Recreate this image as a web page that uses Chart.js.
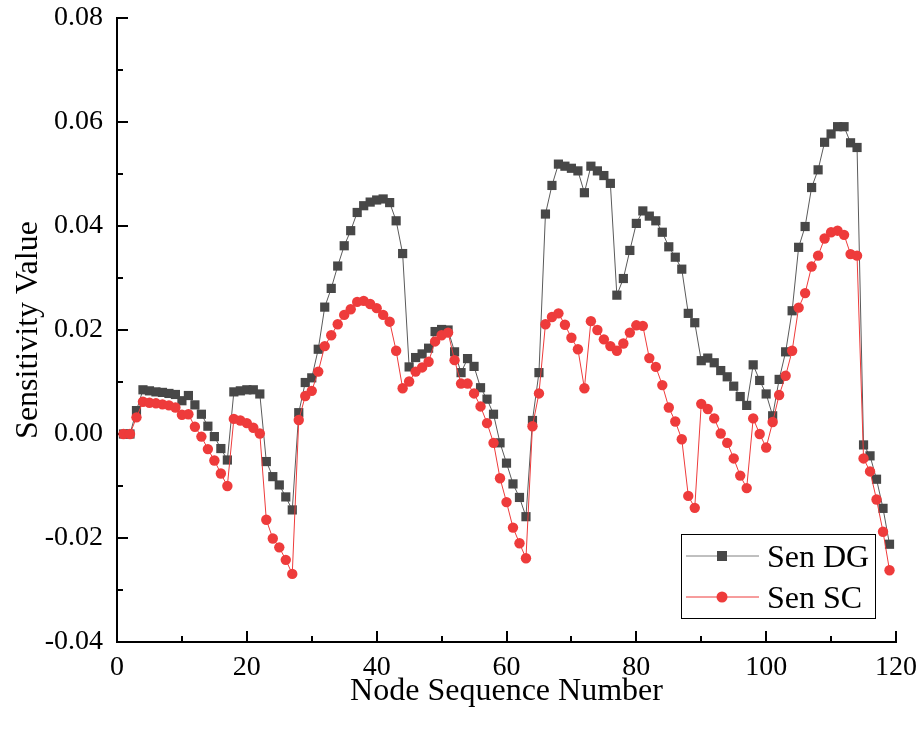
<!DOCTYPE html>
<html>
<head>
<meta charset="utf-8">
<script src="https://cdn.jsdelivr.net/npm/chart.js"></script>
<style>
  html, body { margin: 0; padding: 0; background: #fff; }
</style>
</head>
<body>
<canvas id="myChart" width="919" height="733"></canvas>
<script>
// node numbers on the x axis
const nodes = [
  1, 2, 3, 4, 5, 6, 7, 8, 9, 10, 11, 12, 13, 14, 15, 16, 17, 18, 19, 20,
  21, 22, 23, 24, 25, 26, 27, 28, 29, 30, 31, 32, 33, 34, 35, 36, 37, 38, 39, 40,
  41, 42, 43, 44, 45, 46, 47, 48, 49, 50, 51, 52, 53, 54, 55, 56, 57, 58, 59, 60,
  61, 62, 63, 64, 65, 66, 67, 68, 69, 70, 71, 72, 73, 74, 75, 76, 77, 78, 79, 80,
  81, 82, 83, 84, 85, 86, 87, 88, 89, 90, 91, 92, 93, 94, 95, 96, 97, 98, 99, 100,
  101, 102, 103, 104, 105, 106, 107, 108, 109, 110, 111, 112, 113, 114, 115, 116, 117, 118, 119
];

const senDG = [
  0, 0, 0.0045, 0.0085, 0.0083, 0.0081, 0.0080, 0.0078, 0.0076, 0.0064,
  0.0074, 0.0056, 0.0038, 0.0015, -0.0005, -0.0028, -0.0050, 0.0081, 0.0083, 0.0085,
  0.0085, 0.0077, -0.0053, -0.0082, -0.0098, -0.0121, -0.0146, 0.0041, 0.0099, 0.0108,
  0.0163, 0.0244, 0.0280, 0.0323, 0.0362, 0.0391, 0.0426, 0.0439, 0.0446, 0.0450,
  0.0452, 0.0445, 0.0410, 0.0347, 0.0129, 0.0147, 0.0154, 0.0165, 0.0197, 0.0201,
  0.0200, 0.0158, 0.0118, 0.0145, 0.0130, 0.0089, 0.0067, 0.0038, -0.0017, -0.0056,
  -0.0096, -0.0122, -0.0159, 0.0026, 0.0118, 0.0423, 0.0478, 0.0519, 0.0515, 0.0511,
  0.0506, 0.0464, 0.0515, 0.0506, 0.0497, 0.0482, 0.0267, 0.0299, 0.0353, 0.0405,
  0.0429, 0.0419, 0.0410, 0.0388, 0.0360, 0.0340, 0.0317, 0.0232, 0.0214, 0.0141,
  0.0146, 0.0137, 0.0122, 0.0110, 0.0092, 0.0072, 0.0055, 0.0133, 0.0103, 0.0077,
  0.0035, 0.0105, 0.0158, 0.0237, 0.0359, 0.0399, 0.0474, 0.0508, 0.0561, 0.0577,
  0.0591, 0.0591, 0.0560, 0.0551, -0.0021, -0.0042, -0.0087, -0.0143, -0.0212
];

const senSC = [
  0, 0, 0.0032, 0.0062, 0.0060, 0.0059, 0.0057, 0.0055, 0.0051, 0.0037,
  0.0038, 0.0014, -0.0005, -0.0029, -0.0051, -0.0076, -0.0100, 0.0029, 0.0026, 0.0021,
  0.0012, 0.0001, -0.0165, -0.0201, -0.0218, -0.0242, -0.0269, 0.0027, 0.0073, 0.0083,
  0.0120, 0.0169, 0.0190, 0.0211, 0.0229, 0.0240, 0.0254, 0.0256, 0.0250, 0.0242,
  0.0229, 0.0216, 0.0160, 0.0088, 0.0101, 0.0120, 0.0128, 0.0139, 0.0178, 0.0190,
  0.0195, 0.0142, 0.0097, 0.0097, 0.0078, 0.0053, 0.0021, -0.0017, -0.0085, -0.0131,
  -0.0180, -0.0210, -0.0239, 0.0015, 0.0078, 0.0211, 0.0225, 0.0232, 0.0210, 0.0185,
  0.0163, 0.0088, 0.0217, 0.0200, 0.0182, 0.0169, 0.0160, 0.0174, 0.0195, 0.0209,
  0.0208, 0.0146, 0.0129, 0.0094, 0.0051, 0.0024, -0.0010, -0.0119, -0.0142, 0.0058,
  0.0048, 0.0030, 0.0001, -0.0017, -0.0047, -0.0080, -0.0104, 0.0030, 0.0000, -0.0026,
  0.0023, 0.0075, 0.0112, 0.0160, 0.0243, 0.0271, 0.0322, 0.0343, 0.0376, 0.0388,
  0.0391, 0.0383, 0.0346, 0.0343, -0.0047, -0.0072, -0.0126, -0.0188, -0.0262
];

const xTicks = [0, 20, 40, 60, 80, 100, 120];
const yTicks = [-0.04, -0.02, 0, 0.02, 0.04, 0.06, 0.08];

const DG_COLOR = '#474747';
const SC_COLOR = '#ee3b3b';
const FONT = "'Liberation Serif', 'Times New Roman', serif";

Chart.defaults.font.family = FONT;
Chart.defaults.color = '#000';

// inward tick marks, major and minor, like the original plot
const tickMarks = {
  id: 'tickMarks',
  beforeDatasetsDraw(chart) {
    const ctx = chart.ctx;
    const x = chart.scales.x, y = chart.scales.y;
    const left = chart.chartArea.left, bottom = chart.chartArea.bottom;
    ctx.save();
    ctx.strokeStyle = '#000';
    ctx.lineWidth = 2;
    ctx.beginPath();
    for (let v = 0; v <= 120; v += 10) {
      const px = Math.round(x.getPixelForValue(v));
      const len = v % 20 === 0 ? 11 : 6;
      ctx.moveTo(px, bottom);
      ctx.lineTo(px, bottom - len);
    }
    for (let i = -4; i <= 8; i++) {
      const py = Math.round(y.getPixelForValue(i / 100));
      const len = i % 2 === 0 ? 11 : 6;
      ctx.moveTo(left, py);
      ctx.lineTo(left + len, py);
    }
    ctx.stroke();
    ctx.restore();
  }
};

// boxed legend in the lower right corner
const boxLegend = {
  id: 'boxLegend',
  afterDraw(chart) {
    const ctx = chart.ctx;
    ctx.save();
    ctx.strokeStyle = '#000';
    ctx.lineWidth = 1;
    ctx.strokeRect(681.5, 534.5, 194, 84);
    const rows = [
      { ds: chart.data.datasets[0], y: 556 },
      { ds: chart.data.datasets[1], y: 597 }
    ];
    rows.forEach(r => {
      ctx.strokeStyle = r.ds.legendLine;
      ctx.lineWidth = 1;
      ctx.beginPath();
      ctx.moveTo(686, r.y);
      ctx.lineTo(759, r.y);
      ctx.stroke();
      ctx.fillStyle = r.ds.pointBackgroundColor;
      if (r.ds.pointStyle === 'rect') {
        ctx.fillRect(722 - 5, r.y - 5, 10, 10);
      } else {
        ctx.beginPath();
        ctx.arc(722, r.y, 5.5, 0, Math.PI * 2);
        ctx.fill();
      }
      ctx.fillStyle = '#000';
      ctx.font = '32px ' + FONT;
      ctx.textBaseline = 'alphabetic';
      ctx.fillText(r.ds.label, 767, r.y + 11);
    });
    ctx.restore();
  }
};

const ctx = document.getElementById('myChart').getContext('2d');
const myChart = new Chart(ctx, {
  type: 'line',
  data: {
    datasets: [{
      label: 'Sen DG',
      data: senDG.map((v, i) => ({ x: nodes[i], y: v })),
      borderColor: '#5a5a5a',
      legendLine: '#808080',
      borderWidth: 1,
      pointStyle: 'rect',
      pointRadius: 6.5,
      pointBorderWidth: 0,
      pointBackgroundColor: DG_COLOR,
      tension: 0,
      order: 2
    }, {
      label: 'Sen SC',
      data: senSC.map((v, i) => ({ x: nodes[i], y: v })),
      borderColor: SC_COLOR,
      legendLine: SC_COLOR,
      borderWidth: 1,
      pointStyle: 'circle',
      pointRadius: 5.2,
      pointBorderWidth: 0,
      pointBackgroundColor: SC_COLOR,
      tension: 0,
      order: 1
    }]
  },
  options: {
    responsive: false,
    animation: false,
    layout: { padding: { left: 0, right: 23, top: 18, bottom: 0 } },
    plugins: {
      legend: { display: false },
      tooltip: { enabled: false }
    },
    scales: {
      x: {
        type: 'linear',
        min: 0,
        max: 120,
        afterBuildTicks: s => { s.ticks = xTicks.map(v => ({ value: v })); },
        afterFit: s => { s.height = 91; s.paddingLeft = 0; s.paddingRight = 0; },
        grid: { display: false, drawTicks: false },
        border: { display: true, color: '#000', width: 2 },
        ticks: { font: { size: 28 }, padding: 9, maxRotation: 0 },
        title: {
          display: true,
          text: 'Node Sequence Number',
          font: { size: 32 },
          padding: { top: 0, bottom: 22 }
        }
      },
      y: {
        min: -0.04,
        max: 0.08,
        afterBuildTicks: s => { s.ticks = yTicks.map(v => ({ value: v })); },
        afterFit: s => { s.width = 117; s.paddingTop = 0; s.paddingBottom = 0; },
        grid: { display: false, drawTicks: false },
        border: { display: true, color: '#000', width: 2 },
        ticks: {
          font: { size: 28 },
          padding: 14,
          callback: v => (Math.abs(v) < 1e-9 ? 0 : v).toFixed(2)
        },
        title: {
          display: true,
          text: 'Sensitivity Value',
          font: { size: 32 },
          padding: { top: 9, bottom: 0 }
        }
      }
    }
  },
  plugins: [tickMarks, boxLegend]
});
</script>
</body>
</html>
